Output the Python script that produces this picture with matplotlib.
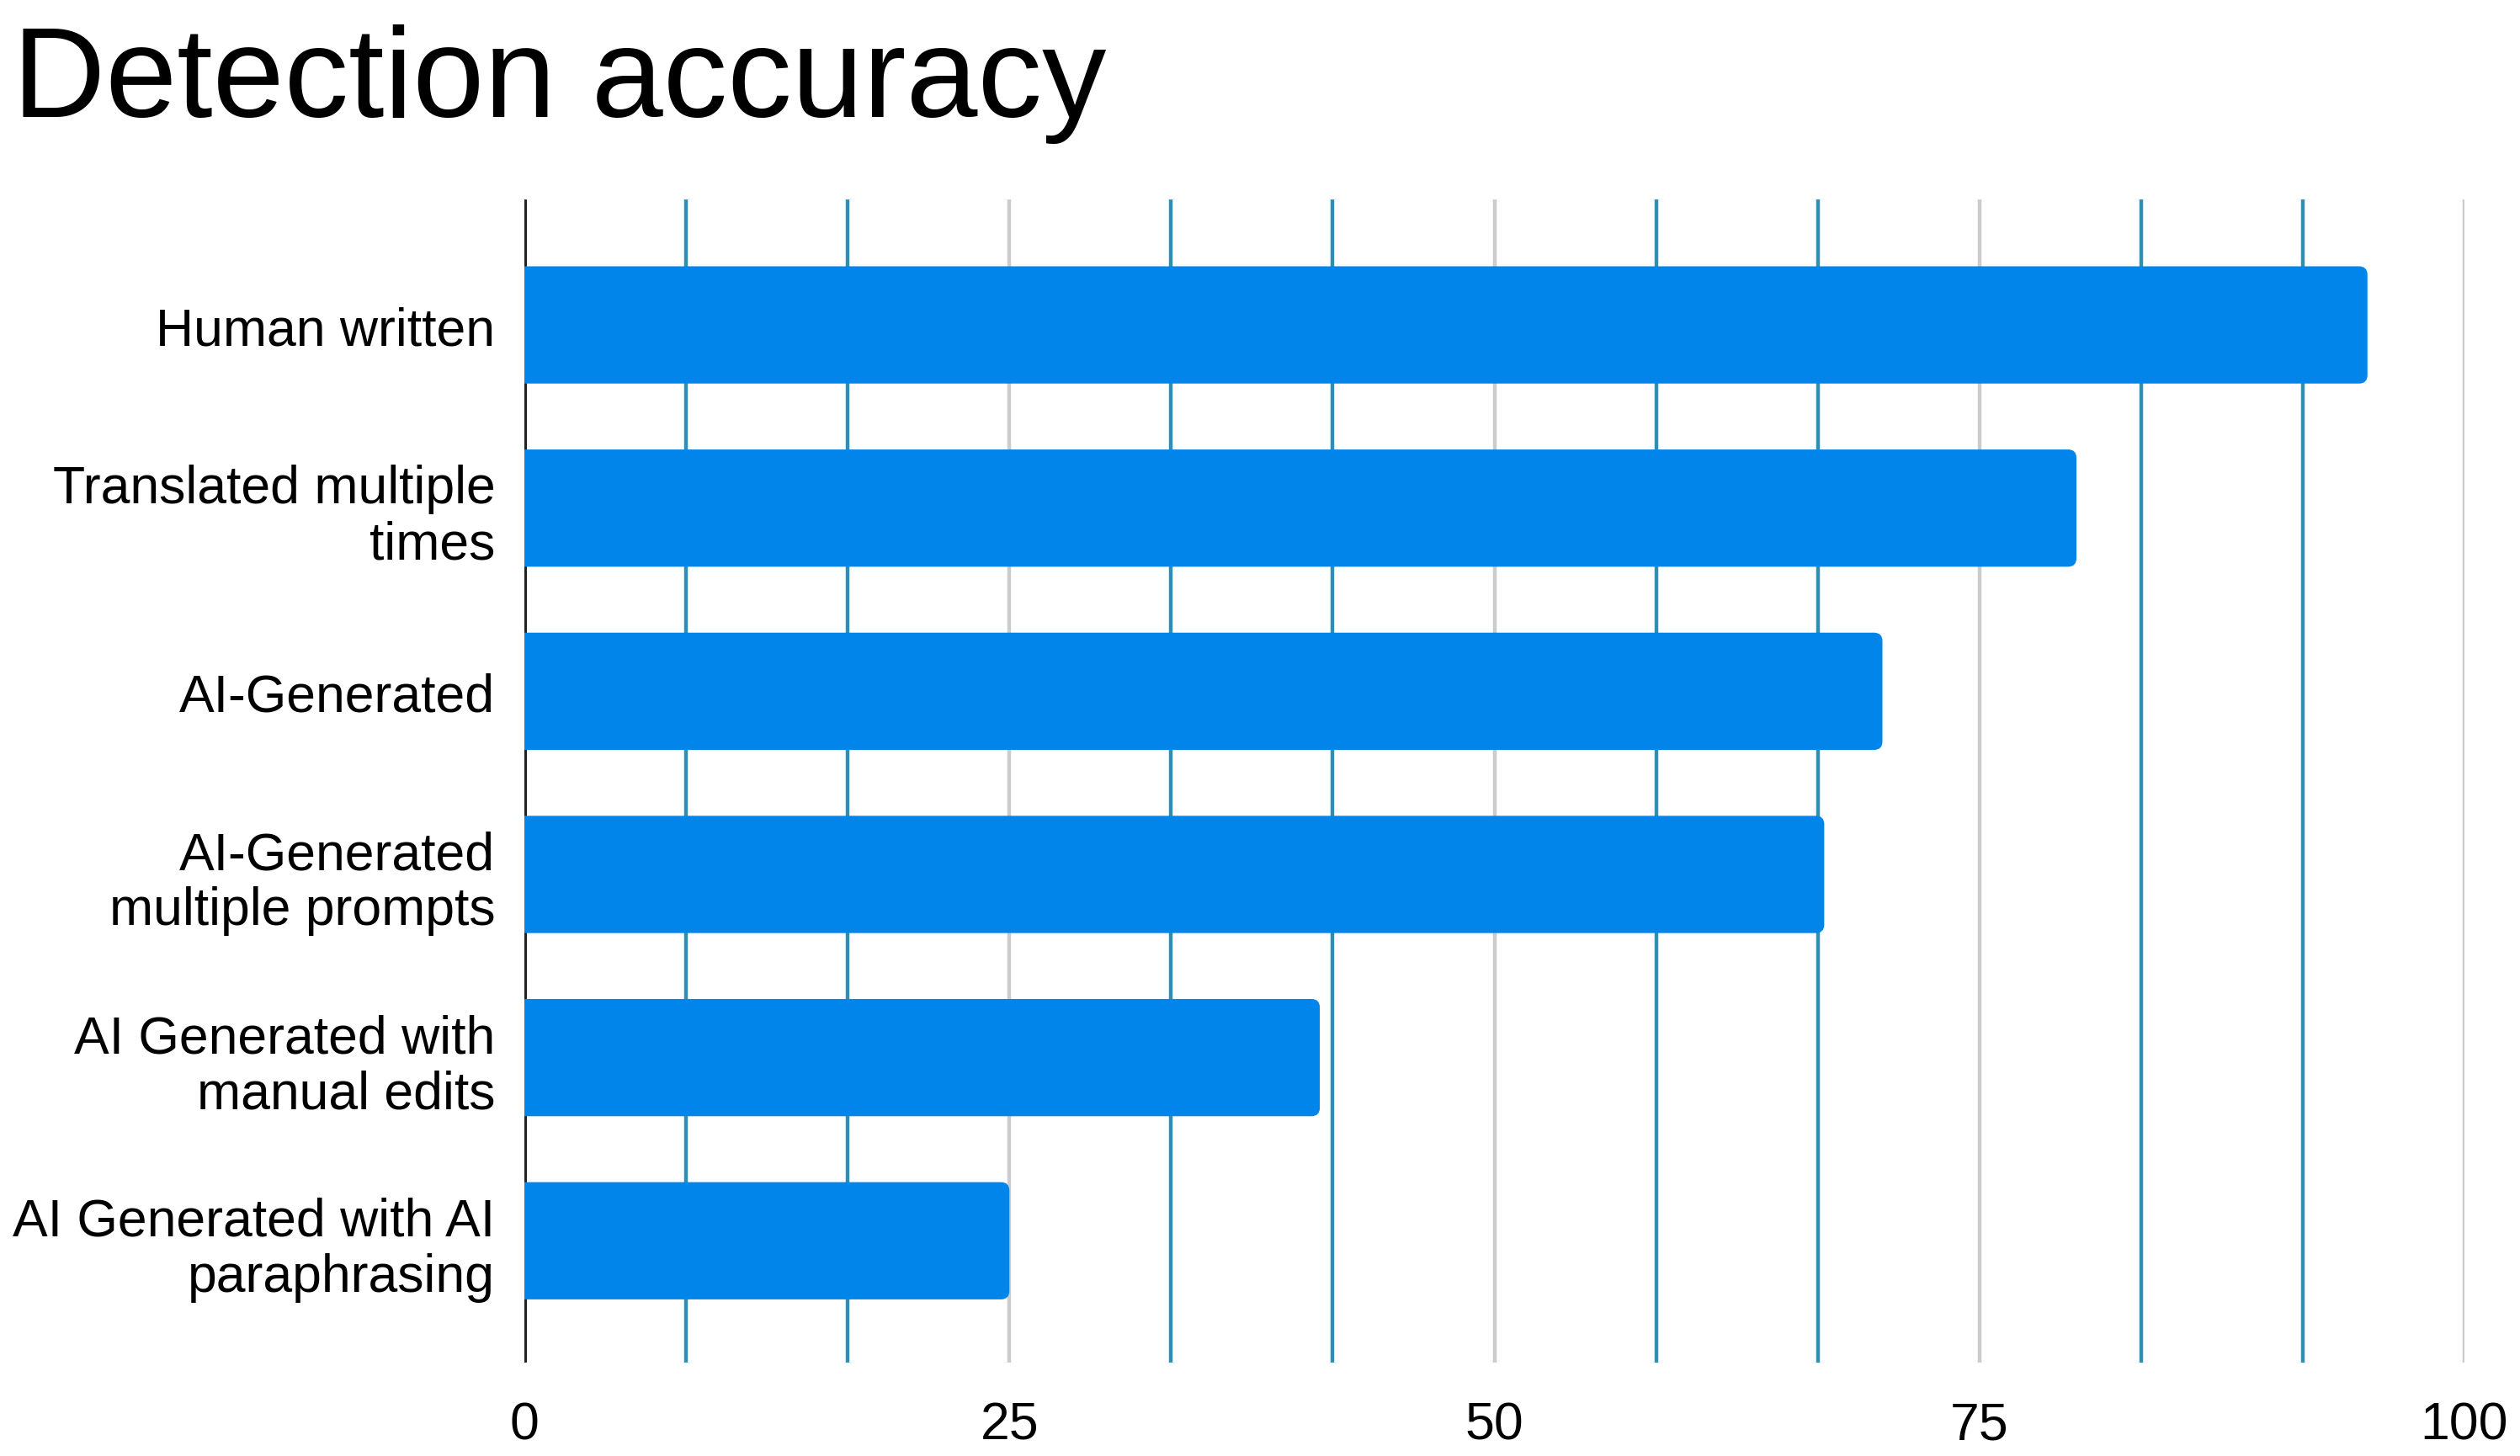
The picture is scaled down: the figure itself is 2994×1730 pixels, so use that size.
import matplotlib
matplotlib.use("Agg")
import matplotlib.pyplot as plt
from matplotlib.patches import FancyBboxPatch
import numpy as np

plt.rcParams['font.family'] = ['Liberation Sans', 'DejaVu Sans']

categories = [
    "Human written",
    "Translated multiple\ntimes",
    "AI-Generated",
    "AI-Generated\nmultiple prompts",
    "AI Generated with\nmanual edits",
    "AI Generated with AI\nparaphrasing",
]
values = [95, 80, 70, 67, 41, 25]
major_ticks = [0, 25, 50, 75, 100]
tick_labels = ["0", "25", "50", "75", "100"]

W, H, DPI = 2994, 1731, 200
fig = plt.figure(figsize=(W / DPI, H / DPI), dpi=DPI)
ax = fig.add_axes([623 / W, 1 - 1620 / H, (2928 - 623) / W, (1620 - 238) / H])

bar_color = "#0285ea"
ypos = np.arange(len(categories))
bar_h = 0.64
bars = ax.barh(ypos, values, height=bar_h, color=bar_color, zorder=3)

ax.set_xlim(0, 100)
ax.set_ylim(5.665, -0.685)

# rounded right ends (left corners pushed outside the axes and clipped)
xpx = 2305 / 100.0
ypx = 1382 / 6.35
rad = 10 / xpx
aspect = xpx / ypx
for b in bars:
    b.set_visible(False)
    x0, y0, w, h = b.get_x(), b.get_y(), b.get_width(), b.get_height()
    p = FancyBboxPatch((x0 - 3 * rad, y0), w + 3 * rad, h,
                       boxstyle=f"round,pad=0,rounding_size={rad}",
                       mutation_aspect=aspect,
                       facecolor=bar_color, edgecolor="none", zorder=3)
    ax.add_patch(p)
    p.set_clip_path(ax.patch)

# grid lines
minor = [m for m in np.arange(0, 100.01, 25 / 3) if all(abs(m - t) > 1e-6 for t in major_ticks)]
for m in minor:
    ax.axvline(m, color="#2f8fb3", lw=1.6, zorder=1)
for t in major_ticks[1:]:
    ax.axvline(t, color="#cccccc", lw=1.6, zorder=1)
ax.axvline(0, color="#222222", lw=1.8, zorder=1)

for s in ax.spines.values():
    s.set_visible(False)

ax.set_xticks(major_ticks)
ax.set_xticklabels(tick_labels)
ax.set_yticks(ypos)
ax.set_yticklabels(categories, linespacing=1.15)
ax.tick_params(axis="x", length=0, pad=16, labelsize=22.5)
ax.tick_params(axis="y", length=0, pad=12.5, labelsize=22.5)
for lab in ax.get_yticklabels():
    lab.set_horizontalalignment("right")
    lab.set_multialignment("right")

fig.text(15 / W, 1 - 139 / H, "Detection accuracy", fontsize=55,
         ha="left", va="baseline", color="black")

fig.savefig("out.png", dpi=DPI, facecolor="white")
